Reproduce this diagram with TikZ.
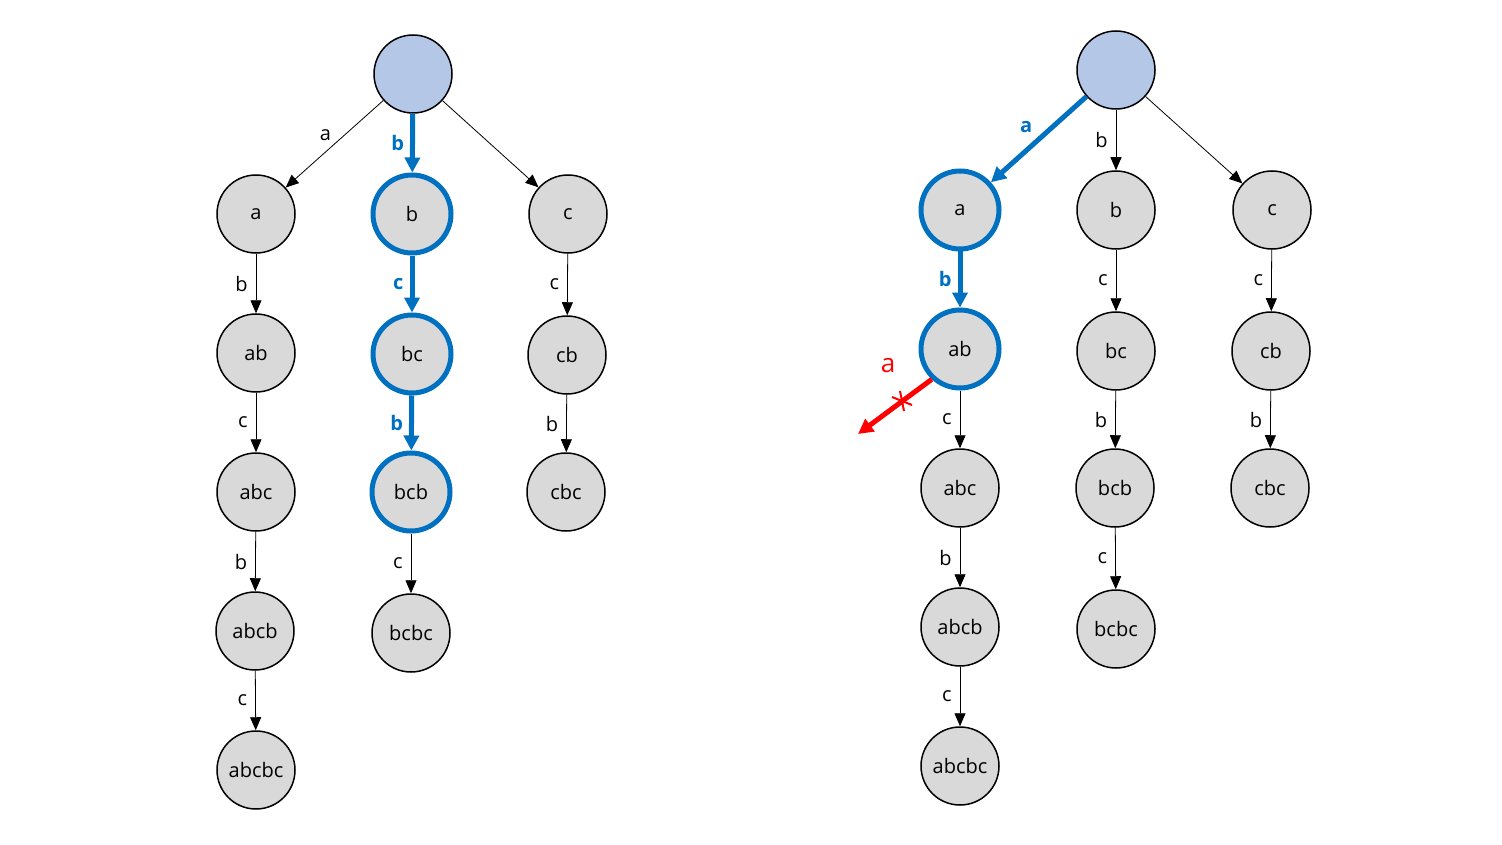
\documentclass[tikz,border=0pt]{standalone}
\usepackage{fontspec}
\setmainfont{Open Sans}
\usetikzlibrary{arrows.meta}
\definecolor{nodegray}{HTML}{D9D9D9}
\definecolor{rootblue}{HTML}{B4C7E7}
\definecolor{hlblue}{HTML}{0070C0}
\tikzset{
  st/.style={circle, draw=black, line width=1.5pt, fill=nodegray, minimum size=78pt,
    inner sep=0pt, font=\fontsize{20}{22}\selectfont},
  rootnode/.style={st, fill=rootblue},
  hl/.style={draw=hlblue, line width=5pt},
  edge/.style={-{Triangle[length=13pt,width=11pt]}, line width=0.8pt},
  hedge/.style={-{Triangle[length=15pt,width=15pt]}, draw=hlblue, line width=5pt},
  lab/.style={font=\fontsize{20}{22}\selectfont, inner sep=1pt},
  hlab/.style={lab, text=hlblue, font=\fontsize{20}{22}\selectfont\bfseries},
  cut/.style={-{Triangle[length=15pt,width=15pt]}, draw=red, line width=5pt},
}
\begin{document}
\begin{tikzpicture}[x=1pt, y=-1pt]
\useasboundingbox (0,0) rectangle (1502,845);

% ---- left trie ----
\node[rootnode] (Lr) at (413,74) {};
\node[st] (La) at (256,214) {a};
\node[st, hl] (Lb) at (412,214) {b};
\node[st] (Lc) at (568,214) {c};
\node[st] (Lab) at (256,353) {ab};
\node[st, hl] (Lbc) at (412,354) {bc};
\node[st] (Lcb) at (567,355) {cb};
\node[st] (Labc) at (256,492) {abc};
\node[st, hl] (Lbcb) at (411,492) {bcb};
\node[st] (Lcbc) at (566,492) {cbc};
\node[st] (Labcb) at (255,631) {abcb};
\node[st] (Lbcbc) at (411,633) {bcbc};
\node[st] (Labcbc) at (256,770) {abcbc};

\draw[edge] (Lr) -- node[lab, midway, above left=2pt] {a} (La);
\draw[hedge] (Lr) -- node[hlab, midway, left=5pt] {b} (Lb);
\draw[edge] (Lr) -- (Lc);
\draw[edge] (La) -- node[lab, midway, left=7pt] {b} (Lab);
\draw[hedge] (Lb) -- node[hlab, midway, left=5pt] {c} (Lbc);
\draw[edge] (Lc) -- node[lab, midway, left=7pt] {c} (Lcb);
\draw[edge] (Lab) -- node[lab, midway, left=7pt] {c} (Labc);
\draw[hedge] (Lbc) -- node[hlab, midway, left=5pt] {b} (Lbcb);
\draw[edge] (Lcb) -- node[lab, midway, left=7pt] {b} (Lcbc);
\draw[edge] (Labc) -- node[lab, midway, left=7pt] {b} (Labcb);
\draw[edge] (Lbcb) -- node[lab, midway, left=7pt] {c} (Lbcbc);
\draw[edge] (Labcb) -- node[lab, midway, left=7pt] {c} (Labcbc);

% ---- right trie ----
\node[rootnode] (Rr) at (1116,70) {};
\node[st, hl] (Ra) at (960,210) {a};
\node[st] (Rb) at (1116,210) {b};
\node[st] (Rc) at (1272,210) {c};
\node[st, hl] (Rab) at (960,349) {ab};
\node[st] (Rbc) at (1116,351) {bc};
\node[st] (Rcb) at (1271,351) {cb};
\node[st] (Rabc) at (960,488) {abc};
\node[st] (Rbcb) at (1115,488) {bcb};
\node[st] (Rcbc) at (1270,488) {cbc};
\node[st] (Rabcb) at (960,627) {abcb};
\node[st] (Rbcbc) at (1116,629) {bcbc};
\node[st] (Rabcbc) at (960,766) {abcbc};

\draw[hedge] (Rr) -- node[hlab, midway, above left=3pt] {a} (Ra);
\draw[edge] (Rr) -- node[lab, midway, left=7pt] {b} (Rb);
\draw[edge] (Rr) -- (Rc);
\draw[hedge] (Ra) -- node[hlab, midway, left=5pt] {b} (Rab);
\draw[edge] (Rb) -- node[lab, midway, left=7pt] {c} (Rbc);
\draw[edge] (Rc) -- node[lab, midway, left=7pt] {c} (Rcb);
\draw[edge] (Rab) -- node[lab, midway, left=7pt] {c} (Rabc);
\draw[edge] (Rbc) -- node[lab, midway, left=7pt] {b} (Rbcb);
\draw[edge] (Rcb) -- node[lab, midway, left=7pt] {b} (Rcbc);
\draw[edge] (Rabc) -- node[lab, midway, left=7pt] {b} (Rabcb);
\draw[edge] (Rbcb) -- node[lab, midway, left=7pt] {c} (Rbcbc);
\draw[edge] (Rabcb) -- node[lab, midway, left=7pt] {c} (Rabcbc);

% failed transition on 'a' from ab
\coordinate (dead) at (858,434);
\draw[cut] (Rab.227) -- (dead);
\node[text=red, font=\fontsize{26}{28}\selectfont, inner sep=0pt] (cutlab) at (888,366) {a};
\coordinate (xc) at (902,401);
\draw[red, line width=2pt] ([shift={(-10,-4)}]xc) -- ([shift={(10,4)}]xc);
\draw[red, line width=2pt] ([shift={(-2,-10)}]xc) -- ([shift={(2,10)}]xc);
\end{tikzpicture}
\end{document}
